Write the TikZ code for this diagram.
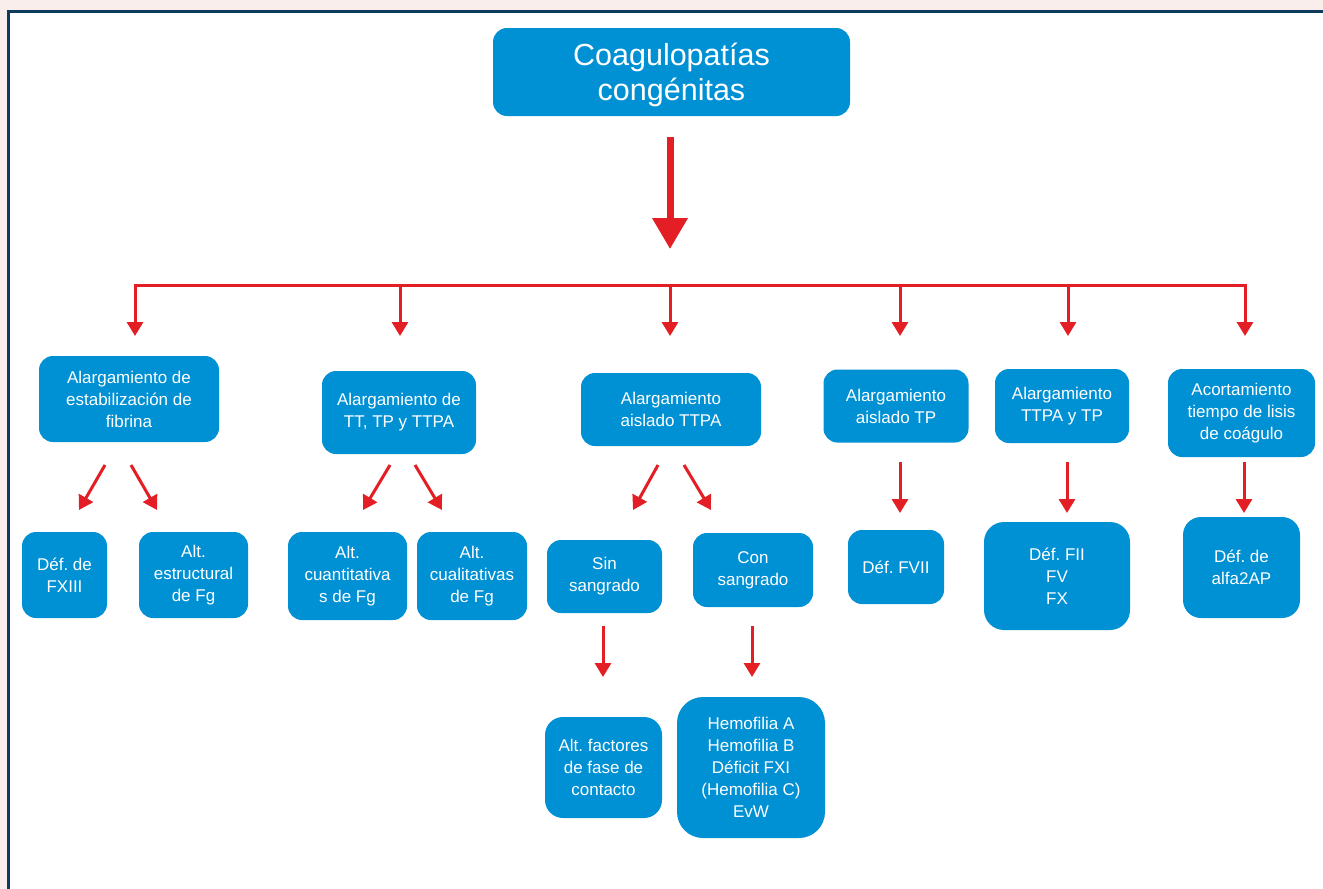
\documentclass[tikz,border=0pt]{standalone}
\usepackage{fontspec}
\setmainfont{Liberation Sans}
\usetikzlibrary{arrows.meta}
\definecolor{boxblue}{HTML}{0090D4}
\definecolor{arrred}{HTML}{E31E24}
\definecolor{framecol}{HTML}{0E3A5C}
\definecolor{bgpink}{HTML}{F9EEEC}
\frenchspacing
\begin{document}
\begin{tikzpicture}[x=1pt,y=-1pt,
  box/.style={rectangle, rounded corners=14pt, fill=boxblue, text=white, align=center, inner sep=0pt, font=\fontsize{17}{22}\selectfont},
  titlebox/.style={box, font=\fontsize{30.5}{35}\selectfont, text height=56.8pt, text depth=0pt},
  arr/.style={draw=arrred, line width=3pt, -{Triangle[width=16pt,length=14pt]}},
  bigarr/.style={draw=arrred, line width=7pt, -{Triangle[width=34pt,length=31pt]}},
  bus/.style={draw=arrred, line width=3pt}
]
\useasboundingbox (0,0) rectangle (1323,889);
% background and frame
\fill[bgpink] (0,0) rectangle (1323,889);
\fill[white] (8.5,11) rectangle (1323,889);
\draw[framecol, line width=3pt] (8.5,889) -- (8.5,11) -- (1323,11);

% nodes
\node[titlebox, minimum width=357pt, minimum height=88pt] (top) at (671.5,72) {Coagulopatías\\congénitas};

\node[box, minimum width=180pt, minimum height=86pt] (b1) at (129,399) {Alargamiento de\\estabilización de\\fibrina};
\node[box, minimum width=154pt, minimum height=83pt] (b2) at (399,412.5) {Alargamiento de\\TT, TP y TTPA};
\node[box, minimum width=180pt, minimum height=73pt] (b3) at (671,409.5) {Alargamiento\\aislado TTPA};
\node[box, minimum width=145pt, minimum height=73pt] (b4) at (896,406) {Alargamiento\\aislado TP};
\node[box, minimum width=134pt, minimum height=74pt] (b5) at (1062,406) {Alargamiento\\TTPA y TP};
\node[box, minimum width=147pt, minimum height=88pt] (b6) at (1241.5,413) {Acortamiento\\tiempo de lisis\\de coágulo};

\node[box, minimum width=85pt, minimum height=86pt] (c1) at (64.5,575) {Déf. de\\FXIII};
\node[box, minimum width=109pt, minimum height=86pt] (c2) at (193.5,575) {Alt.\\estructural\\de Fg};
\node[box, minimum width=119pt, minimum height=88pt] (c3) at (347.5,576) {Alt.\\cuantitativa\\s de Fg};
\node[box, minimum width=110pt, minimum height=88pt] (c4) at (472,576) {Alt.\\cualitativas\\de Fg};
\node[box, minimum width=115pt, minimum height=73pt] (c5) at (604.5,576.5) {Sin\\sangrado};
\node[box, minimum width=120pt, minimum height=74pt] (c6) at (753,570) {Con\\sangrado};
\node[box, minimum width=96pt, minimum height=74pt] (c7) at (896,567) {Déf. FVII};
\node[box, rounded corners=20pt, minimum width=146pt, minimum height=108pt] (c8) at (1057,576) {Déf. FII\\FV\\FX};
\node[box, rounded corners=18pt, minimum width=117pt, minimum height=101pt] (c9) at (1241.5,567.5) {Déf. de\\alfa2AP};

\node[box, rounded corners=18pt, minimum width=117pt, minimum height=101pt] (d1) at (603.5,767.5) {Alt. factores\\de fase de\\contacto};
\node[box, rounded corners=26pt, minimum width=148pt, minimum height=141pt] (d2) at (751,767.5) {Hemofilia A\\Hemofilia B\\Déficit FXI\\(Hemofilia C)\\EvW};

% coordinates
\coordinate (bigS) at (670,137);
\coordinate (bigE) at (670,249);
\coordinate (busL) at (133.5,285);
\coordinate (busR) at (1246.5,285);
\foreach \i/\x in {1/135,2/400,3/670,4/900,5/1068,6/1245}{
  \coordinate (s\i) at (\x,283.5);
  \coordinate (t\i) at (\x,336);
}
% diagonal arrow ends
\coordinate (b1a) at (105,465); \coordinate (c1a) at (79,510);
\coordinate (b1b) at (131,465); \coordinate (c2a) at (157,510);
\coordinate (b2a) at (390,465); \coordinate (c3a) at (363,510);
\coordinate (b2b) at (415,465); \coordinate (c4a) at (442,510);
\coordinate (b3a) at (658,465); \coordinate (c5a) at (633,510);
\coordinate (b3b) at (684,465); \coordinate (c6a) at (711,510);
% vertical arrows
\coordinate (b4a) at (900,462); \coordinate (c7a) at (900,513);
\coordinate (b5a) at (1067,462); \coordinate (c8a) at (1067,513);
\coordinate (b6a) at (1244,462); \coordinate (c9a) at (1244,513);
\coordinate (c5b) at (603,626); \coordinate (d1a) at (603,677);
\coordinate (c6b) at (752,626); \coordinate (d2a) at (752,677);

% connectors
\draw[bigarr] (bigS) -- (bigE);
\draw[bus] (busL) -- (busR);
\foreach \i in {1,...,6}{ \draw[arr] (s\i) -- (t\i); }
\draw[arr] (b1a) -- (c1a);
\draw[arr] (b1b) -- (c2a);
\draw[arr] (b2a) -- (c3a);
\draw[arr] (b2b) -- (c4a);
\draw[arr] (b3a) -- (c5a);
\draw[arr] (b3b) -- (c6a);
\draw[arr] (b4a) -- (c7a);
\draw[arr] (b5a) -- (c8a);
\draw[arr] (b6a) -- (c9a);
\draw[arr] (c5b) -- (d1a);
\draw[arr] (c6b) -- (d2a);
\end{tikzpicture}
\end{document}
